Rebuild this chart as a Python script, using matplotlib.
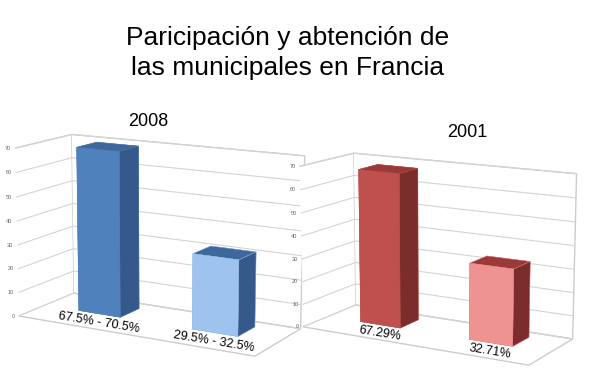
import matplotlib.pyplot as plt
import numpy as np
from mpl_toolkits.mplot3d import proj3d

# datos
cats_2008 = ['67.5% - 70.5%', '29.5% - 32.5%']
vals_2008 = [69, 31]
cats_2001 = ['67.29%', '32.71%']
vals_2001 = [67.29, 32.71]
ticks = list(range(0, 71, 10))

front_2008 = ['#4f81bd', '#9dc3ee']
side_2008 = '#34598a'
top_2008 = '#3e679b'
front_2001 = ['#c0504d', '#ee9292']
side_2001 = '#7a2d2b'
top_2001 = '#9a3a38'

plt.rcParams['font.family'] = ['Liberation Sans', 'DejaVu Sans']
plt.rcParams['grid.color'] = '#d4d4d4'
plt.rcParams['grid.linewidth'] = 0.8

fig = plt.figure(figsize=(5.9, 3.72), dpi=100)
fig.patch.set_facecolor('white')

fig.text(0.488, 0.93, 'Paricipación y abtención de\nlas municipales en Francia',
         ha='center', va='top', fontsize=19, linespacing=1.32)

xs = np.array([0.5, 2.1])
w, d, y0 = 0.6, 0.55, 0.7


def chart(rect, vals, fronts, side, top, zoom):
    ax = fig.add_axes(rect, projection='3d')
    ax.set_proj_type('persp', focal_length=1.0)
    ax.view_init(elev=13, azim=-60)
    ax.set_box_aspect((3.4, 1.3, 2.2), zoom=zoom)
    for i, v in enumerate(vals):
        # caras: abajo, arriba, frente, fondo, izq, der
        cols = [side, top, fronts[i], side, side, side]
        ax.bar3d(xs[i], y0, 0, w, d, v, color=cols, shade=False,
                 edgecolor=fronts[i], linewidth=0.3)
    ax.set_xlim(0, 3.2)
    ax.set_ylim(0, 1.5)
    ax.set_zlim(0, 70)
    ax.set_xticks([])
    ax.set_yticks([])
    ax.set_zticks(ticks)
    ax.zaxis.set_major_formatter(plt.NullFormatter())
    ax.tick_params(axis='z', color=(1, 1, 1, 0))
    for a in (ax.xaxis, ax.yaxis, ax.zaxis):
        a.set_pane_color((1, 1, 1, 1))
        a.pane.set_edgecolor('#cccccc')
        a.line.set_color((1, 1, 1, 0))
    ax.set_facecolor('none')
    return ax


def to_px(ax, x, y, z):
    x2, y2, _ = proj3d.proj_transform(x, y, z, ax.get_proj())
    return ax.transData.transform((x2, y2))


def labels(ax, cats, year, year_xy):
    inv = fig.transFigure.inverted()
    for t in ticks:
        px = to_px(ax, 0, 0, t)
        fx, fy = inv.transform((px[0] - 4, px[1]))
        fig.text(fx, fy, str(t), ha='right', va='center', fontsize=4,
                 color='#666666')
    for i, c in enumerate(cats):
        p0 = to_px(ax, xs[i], y0, 0)
        p1 = to_px(ax, xs[i] + w, y0, 0)
        ang = np.degrees(np.arctan2(p1[1] - p0[1], p1[0] - p0[0]))
        pc = (p0 + p1) / 2
        fx, fy = inv.transform((pc[0], pc[1] - 3))
        fig.text(fx, fy, c, ha='center', va='top', fontsize=9,
                 rotation=ang, rotation_mode='anchor')
    fig.text(year_xy[0], year_xy[1], year, ha='center', va='baseline', fontsize=13)


ax1 = chart([-0.004, 0.0, 0.53, 0.7], vals_2008, front_2008, side_2008,
            top_2008, 1.26)
ax2 = chart([0.468, -0.028, 0.53, 0.68], vals_2001, front_2001, side_2001,
            top_2001, 1.24)
fig.canvas.draw()
labels(ax1, cats_2008, '2008', (148 / 590, 1 - 126 / 372))
labels(ax2, cats_2001, '2001', (467 / 590, 1 - 137 / 372))

fig.savefig('out.png', dpi=100)
